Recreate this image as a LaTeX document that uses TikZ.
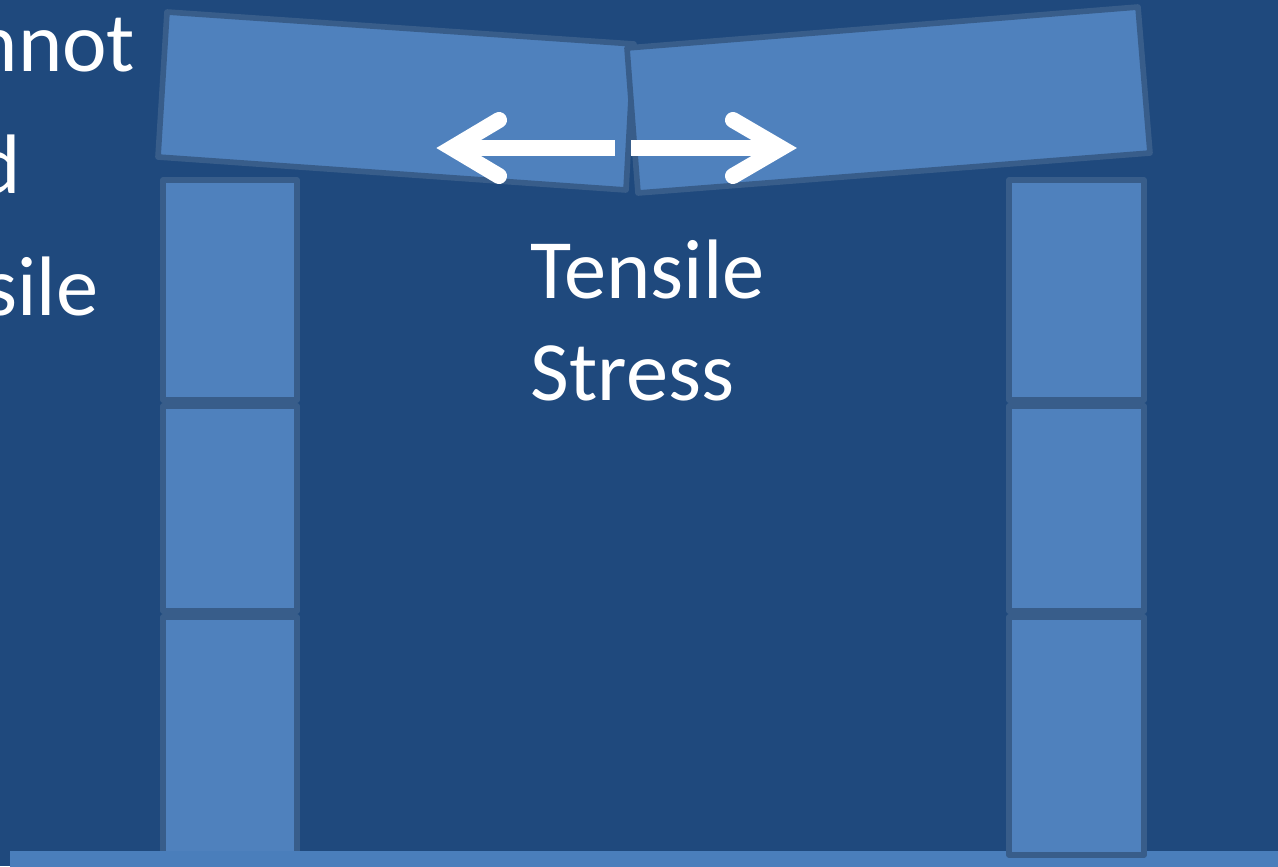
\documentclass[tikz,border=0pt]{standalone}
\usepackage{fontspec}
\setmainfont{Carlito}
\definecolor{slidebg}{HTML}{1F497D}
\definecolor{blockfill}{HTML}{4F81BD}
\definecolor{blockline}{HTML}{385D8A}
\definecolor{groundfill}{HTML}{4A7EBB}

\begin{document}
\begin{tikzpicture}[x=0.01cm, y=-0.01cm,
  block/.style={draw=blockline, fill=blockfill, line width=1.6pt, line join=round},
  push/.style={draw=white, line width=4.55pt},
  pushhead/.style={draw=white, line width=4.55pt, line cap=round, line join=miter},
  slidetext/.style={text=white, font=\fontsize{24}{29}\selectfont, inner sep=0pt}
]

\fill[slidebg] (0,0) rectangle (1278,866);
\useasboundingbox (0,0) rectangle (1278,866);

% left column, bottom block runs under the ground
\draw[block] (163,180) rectangle (297,400);
\draw[block] (163,406) rectangle (297,611);
\draw[block] (163,617) rectangle (297,900);

\fill[groundfill] (10,851) rectangle (1290,880);

% right column
\draw[block] (1009,180) rectangle (1144,400);
\draw[block] (1009,406) rectangle (1144,611);
\draw[block] (1009,617) rectangle (1144,855);

% the two halves of the lintel
\draw[block] (167,12) -- (634,44) -- (626,190) -- (158,157) -- cycle;
\draw[block] (627,48) -- (1138,7) -- (1150,153) -- (638,193) -- cycle;

% pulling arrows
\draw[push] (615,148) -- (455,148);
\draw[pushhead] (499,120) -- (452,148) -- (499,176);
\draw[push] (631,148) -- (778,148);
\draw[pushhead] (733,120) -- (781,148) -- (733,176);

\node[slidetext, anchor=base west] (tensile) at (530,298) {Tensile};
\node[slidetext, anchor=base west] (stress) at (530,400) {Stress};

\node[slidetext, anchor=base east] (cannot) at (136,71) {nnot};
\node[slidetext, anchor=base east] (and) at (22,193) {d};
\node[slidetext, anchor=base east] (sile) at (99,315) {sile};

\end{tikzpicture}
\end{document}
